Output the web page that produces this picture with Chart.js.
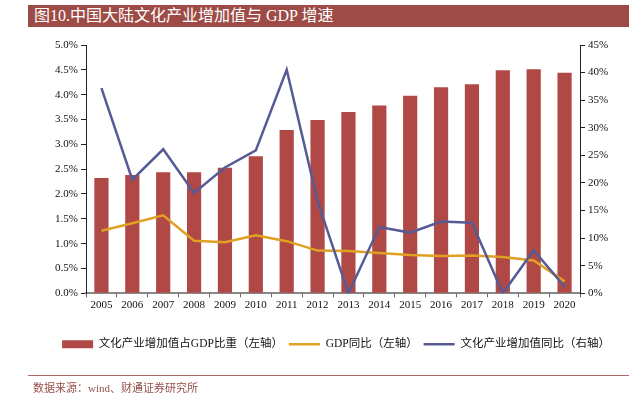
<!DOCTYPE html>
<html>
<head>
<meta charset="utf-8">
<script src="https://cdn.jsdelivr.net/npm/chart.js@4/dist/chart.umd.min.js"></script>
<style>
  html, body { margin: 0; padding: 0; background: #fff; }
  body { width: 639px; height: 393px; position: relative; overflow: hidden;
         font-family: "Liberation Serif", "Noto Sans CJK SC", serif; }
  .title-bar { position: absolute; left: 28px; top: 5px; width: 601px; height: 22px;
               background: #9e4b47; color: #fff; font-size: 16px; line-height: 22px;
               padding-left: 6px; box-sizing: border-box; }
  .source-line { position: absolute; left: 28px; top: 375px; width: 601px; height: 1px; background: #a86b69; }
  .source { position: absolute; left: 33px; top: 379px; font-size: 11px; color: #96504c; }
  #chartBox { position: absolute; left: 0; top: 0; width: 639px; height: 393px; }
</style>
</head>
<body>
<div id="chartBox"><canvas id="cultureChart" width="639" height="393"></canvas></div>
<div class="title-bar">图10.中国大陆文化产业增加值与 GDP 增速</div>
<div class="source-line"></div>
<div class="source">数据来源：wind、财通证券研究所</div>
<script>
// data
const years = ['2005', '2006', '2007', '2008', '2009', '2010', '2011', '2012',
               '2013', '2014', '2015', '2016', '2017', '2018', '2019', '2020'];
// 文化产业增加值占GDP比重 (%), left axis
const cultureShare = [2.32, 2.38, 2.44, 2.44, 2.53, 2.76, 3.29, 3.49,
                      3.65, 3.78, 3.98, 4.15, 4.21, 4.49, 4.51, 4.44];
// GDP同比 (already scaled to the left axis, %)
const gdpGrowth = [1.26, 1.41, 1.57, 1.06, 1.03, 1.17, 1.05, 0.86,
                   0.85, 0.81, 0.77, 0.75, 0.76, 0.73, 0.66, 0.24];
// 文化产业增加值同比 (%), right axis
const cultureGrowth = [37.2, 20.6, 26.1, 18.2, 22.8, 25.9, 40.5, 16.7,
                       0.0, 12.0, 11.0, 13.0, 12.8, 0.0, 7.8, 1.2];

const labelFont = { family: '"Liberation Serif", "Noto Sans CJK SC", serif', size: 11 };

const ctx = document.getElementById('cultureChart').getContext('2d');
const cultureChart = new Chart(ctx, {
    type: 'bar',
    data: {
        labels: years,
        datasets: [{
            type: 'bar',
            label: '文化产业增加值占GDP比重（左轴）',
            data: cultureShare,
            yAxisID: 'yLeft',
            backgroundColor: '#b04846',
            borderWidth: 0,
            categoryPercentage: 1,
            barPercentage: 0.46,
            pointStyle: 'rect',
            order: 3
        }, {
            type: 'line',
            label: 'GDP同比（左轴）',
            data: gdpGrowth,
            yAxisID: 'yLeft',
            borderColor: '#e0a022',
            backgroundColor: '#e0a022',
            borderWidth: 2.5,
            pointRadius: 0,
            pointStyle: 'line',
            tension: 0,
            order: 2
        }, {
            type: 'line',
            label: '文化产业增加值同比（右轴）',
            data: cultureGrowth,
            yAxisID: 'yRight',
            borderColor: '#565b96',
            backgroundColor: '#565b96',
            borderWidth: 2.5,
            pointRadius: 0,
            pointStyle: 'line',
            tension: 0,
            order: 1
        }]
    },
    options: {
        responsive: false,
        maintainAspectRatio: false,
        animation: false,
        layout: {
            padding: { left: 33, right: 0, top: 45, bottom: 33 }
        },
        plugins: {
            tooltip: { enabled: false },
            legend: {
                display: true,
                position: 'bottom',
                labels: {
                    usePointStyle: true,
                    pointStyleWidth: 31,
                    boxHeight: 8,
                    padding: 6,
                    color: '#111',
                    font: { family: '"Liberation Serif", "Noto Sans CJK SC", serif', size: 11.5 },
                    sort: (a, b) => a.datasetIndex - b.datasetIndex
                }
            }
        },
        scales: {
            x: {
                offset: true,
                grid: { display: true, offset: true, drawOnChartArea: false, drawTicks: true,
                        tickLength: 4, color: '#666' },
                border: { display: true, color: '#888', width: 2 },
                ticks: { color: '#111', font: labelFont, maxRotation: 0, padding: 1 },
                afterFit: (scale) => { scale.height += 20; }
            },
            yLeft: {
                position: 'left',
                min: 0,
                max: 5,
                grid: { drawOnChartArea: false, drawTicks: true, tickLength: 5, color: '#222' },
                border: { display: true, color: '#222', width: 1 },
                ticks: {
                    stepSize: 0.5,
                    color: '#111',
                    font: labelFont,
                    padding: 3,
                    callback: (v) => v.toFixed(1) + '%'
                },
                afterFit: (scale) => { scale.width = 53; }
            },
            yRight: {
                position: 'right',
                min: 0,
                max: 45,
                grid: { drawOnChartArea: false, drawTicks: true, tickLength: 5, color: '#222' },
                border: { display: true, color: '#222', width: 1 },
                ticks: {
                    stepSize: 5,
                    color: '#111',
                    font: labelFont,
                    padding: 3,
                    callback: (v) => v + '%'
                },
                afterFit: (scale) => { scale.width = 59; }
            }
        }
    }
});
</script>
</body>
</html>
